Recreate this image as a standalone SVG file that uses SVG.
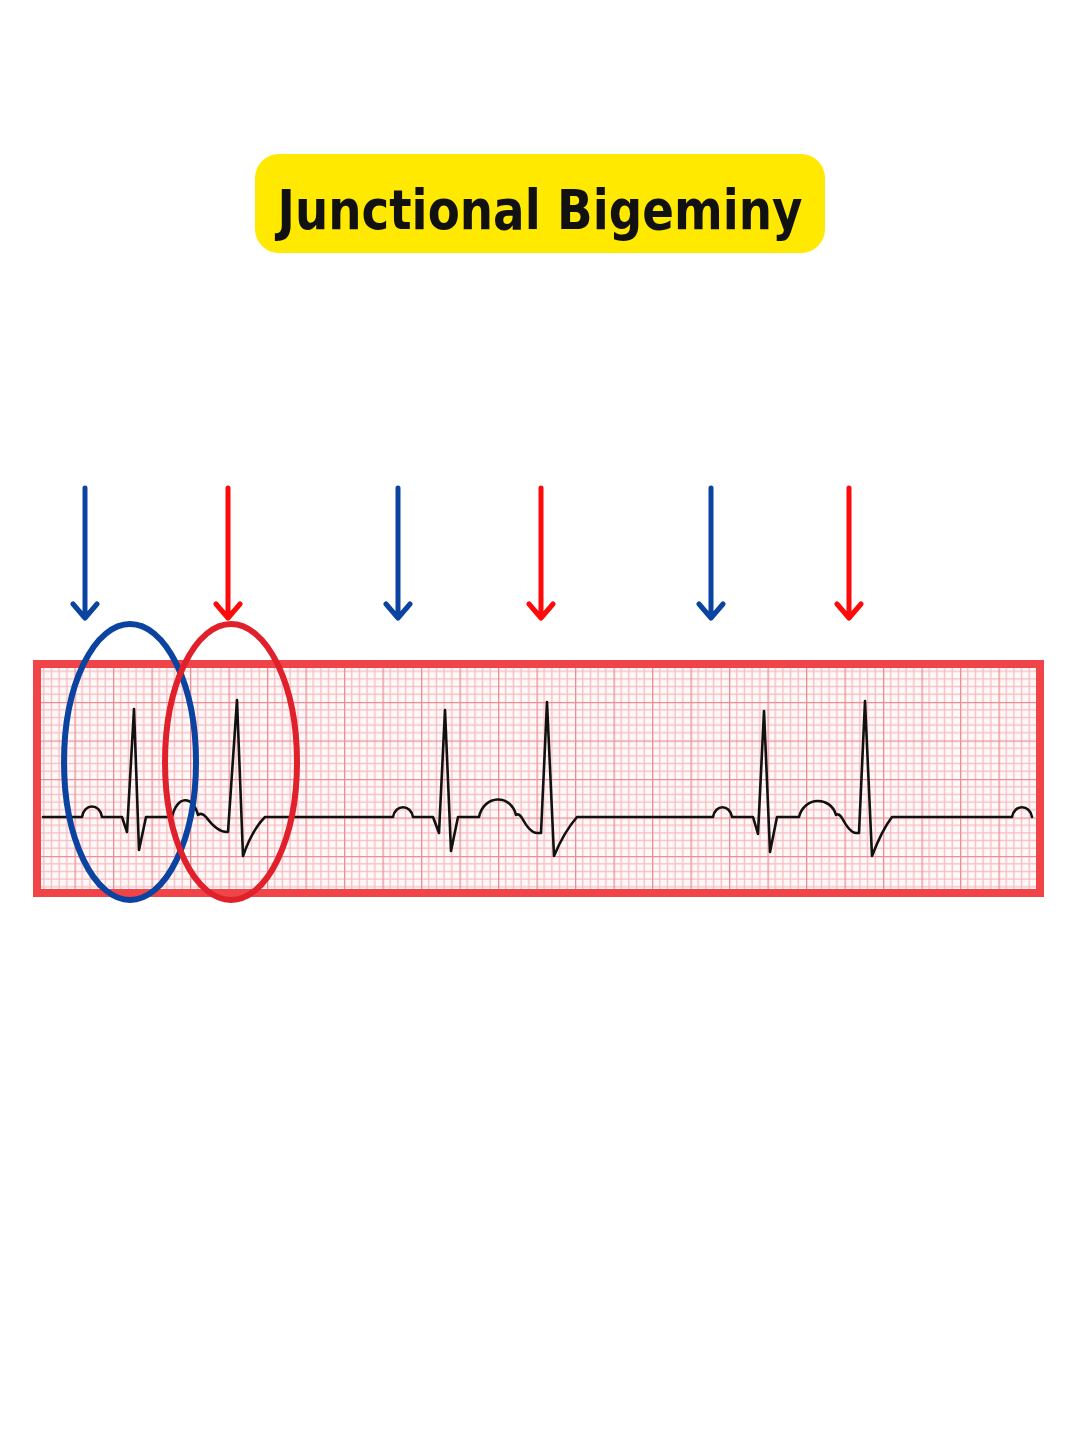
<svg xmlns="http://www.w3.org/2000/svg" width="1080" height="1440" viewBox="0 0 1080 1440">
  <style>
    .title { font-family: "DejaVu Sans", "Liberation Sans", sans-serif; font-weight: bold; font-size: 56px; fill: #111; }
    .trace { fill: none; stroke: #111; stroke-width: 2.6; stroke-linejoin: round; stroke-linecap: round; }
    .arrow { fill: none; stroke-width: 5; stroke-linecap: round; stroke-linejoin: round; }
    .blue { stroke: #0a44a0; }
    .red { stroke: #ff0a0a; }
    .ring { fill: none; stroke-width: 6; }
  </style>
  <defs>
    <pattern id="ecgGrid" patternUnits="userSpaceOnUse" x="36" y="663.5" width="38.5" height="38.5">
      <rect width="38.5" height="38.5" fill="#fff8f8"/>
      <g stroke="#f6bcc0" stroke-width="1.3">
        <line x1="7.7" y1="0" x2="7.7" y2="38.5"/>
        <line x1="15.4" y1="0" x2="15.4" y2="38.5"/>
        <line x1="23.1" y1="0" x2="23.1" y2="38.5"/>
        <line x1="30.8" y1="0" x2="30.8" y2="38.5"/>
        <line x1="0" y1="7.7" x2="38.5" y2="7.7"/>
        <line x1="0" y1="15.4" x2="38.5" y2="15.4"/>
        <line x1="0" y1="23.1" x2="38.5" y2="23.1"/>
        <line x1="0" y1="30.8" x2="38.5" y2="30.8"/>
      </g>
      <g stroke="#ec8e95" stroke-width="1.6">
        <line x1="0.5" y1="0" x2="0.5" y2="38.5"/>
        <line x1="0" y1="0.5" x2="38.5" y2="0.5"/>
      </g>
    </pattern>
  </defs>

  <rect width="1080" height="1440" fill="#ffffff"/>

  <g id="title">
    <rect x="255" y="154" width="570" height="99" rx="24" fill="#ffe900"/>
    <text class="title" x="540" y="229" text-anchor="middle" textLength="525" lengthAdjust="spacingAndGlyphs">Junctional Bigeminy</text>
  </g>

  <g id="ecg-strip">
    <rect x="37" y="664" width="1003" height="229" fill="url(#ecgGrid)"/>
    <rect x="37" y="664" width="1003" height="229" fill="none" stroke="#f04448" stroke-width="8"/>
    <path class="trace" d="M43 817 L82 817 C84 803 100 803 102 817 L122 817 L127 832 L134 709 L139 850 L146 817 L172 817 C177 795 193 795 198 815 Q202 812 206 817 Q218 833 228 832 L237 700 L243 856 Q252 830 265 817 L393 817 C395 804 411 804 413 817 L433 817 L439 833 L445 710 L451 851 L458 817 L479 817 C484 794 511 794 516 815 Q519 813 522 818 Q530 833 537 833 L541 833 L547 702 L554 856 Q564 832 577 817 L713 817 C715 804 730 804 732 817 L753 817 L758 834 L764 711 L770 852 L777 817 L799 817 C804 796 831 796 836 815 Q839 813 842 818 Q850 833 856 833 L859 833 L865 701 L872 856 Q882 830 892 817 L1012 817 C1014 804 1030 804 1032 817"/>
  </g>

  <g id="circle-blue">
    <ellipse class="ring" cx="130" cy="762" rx="66" ry="138" stroke="#0a44a0"/>
  </g>
  <g id="circle-red">
    <ellipse class="ring" cx="231" cy="762" rx="66" ry="138" stroke="#e0202a"/>
  </g>

  <g id="connectors">
    <g class="arrow blue">
      <path d="M85 488 L85 617 M73 604 L85 618 L97 604"/>
      <path d="M398 488 L398 617 M386 604 L398 618 L410 604"/>
      <path d="M711 488 L711 617 M699 604 L711 618 L723 604"/>
    </g>
    <g class="arrow red">
      <path d="M228 488 L228 617 M216 604 L228 618 L240 604"/>
      <path d="M541 488 L541 617 M529 604 L541 618 L553 604"/>
      <path d="M849 488 L849 617 M837 604 L849 618 L861 604"/>
    </g>
  </g>
</svg>
